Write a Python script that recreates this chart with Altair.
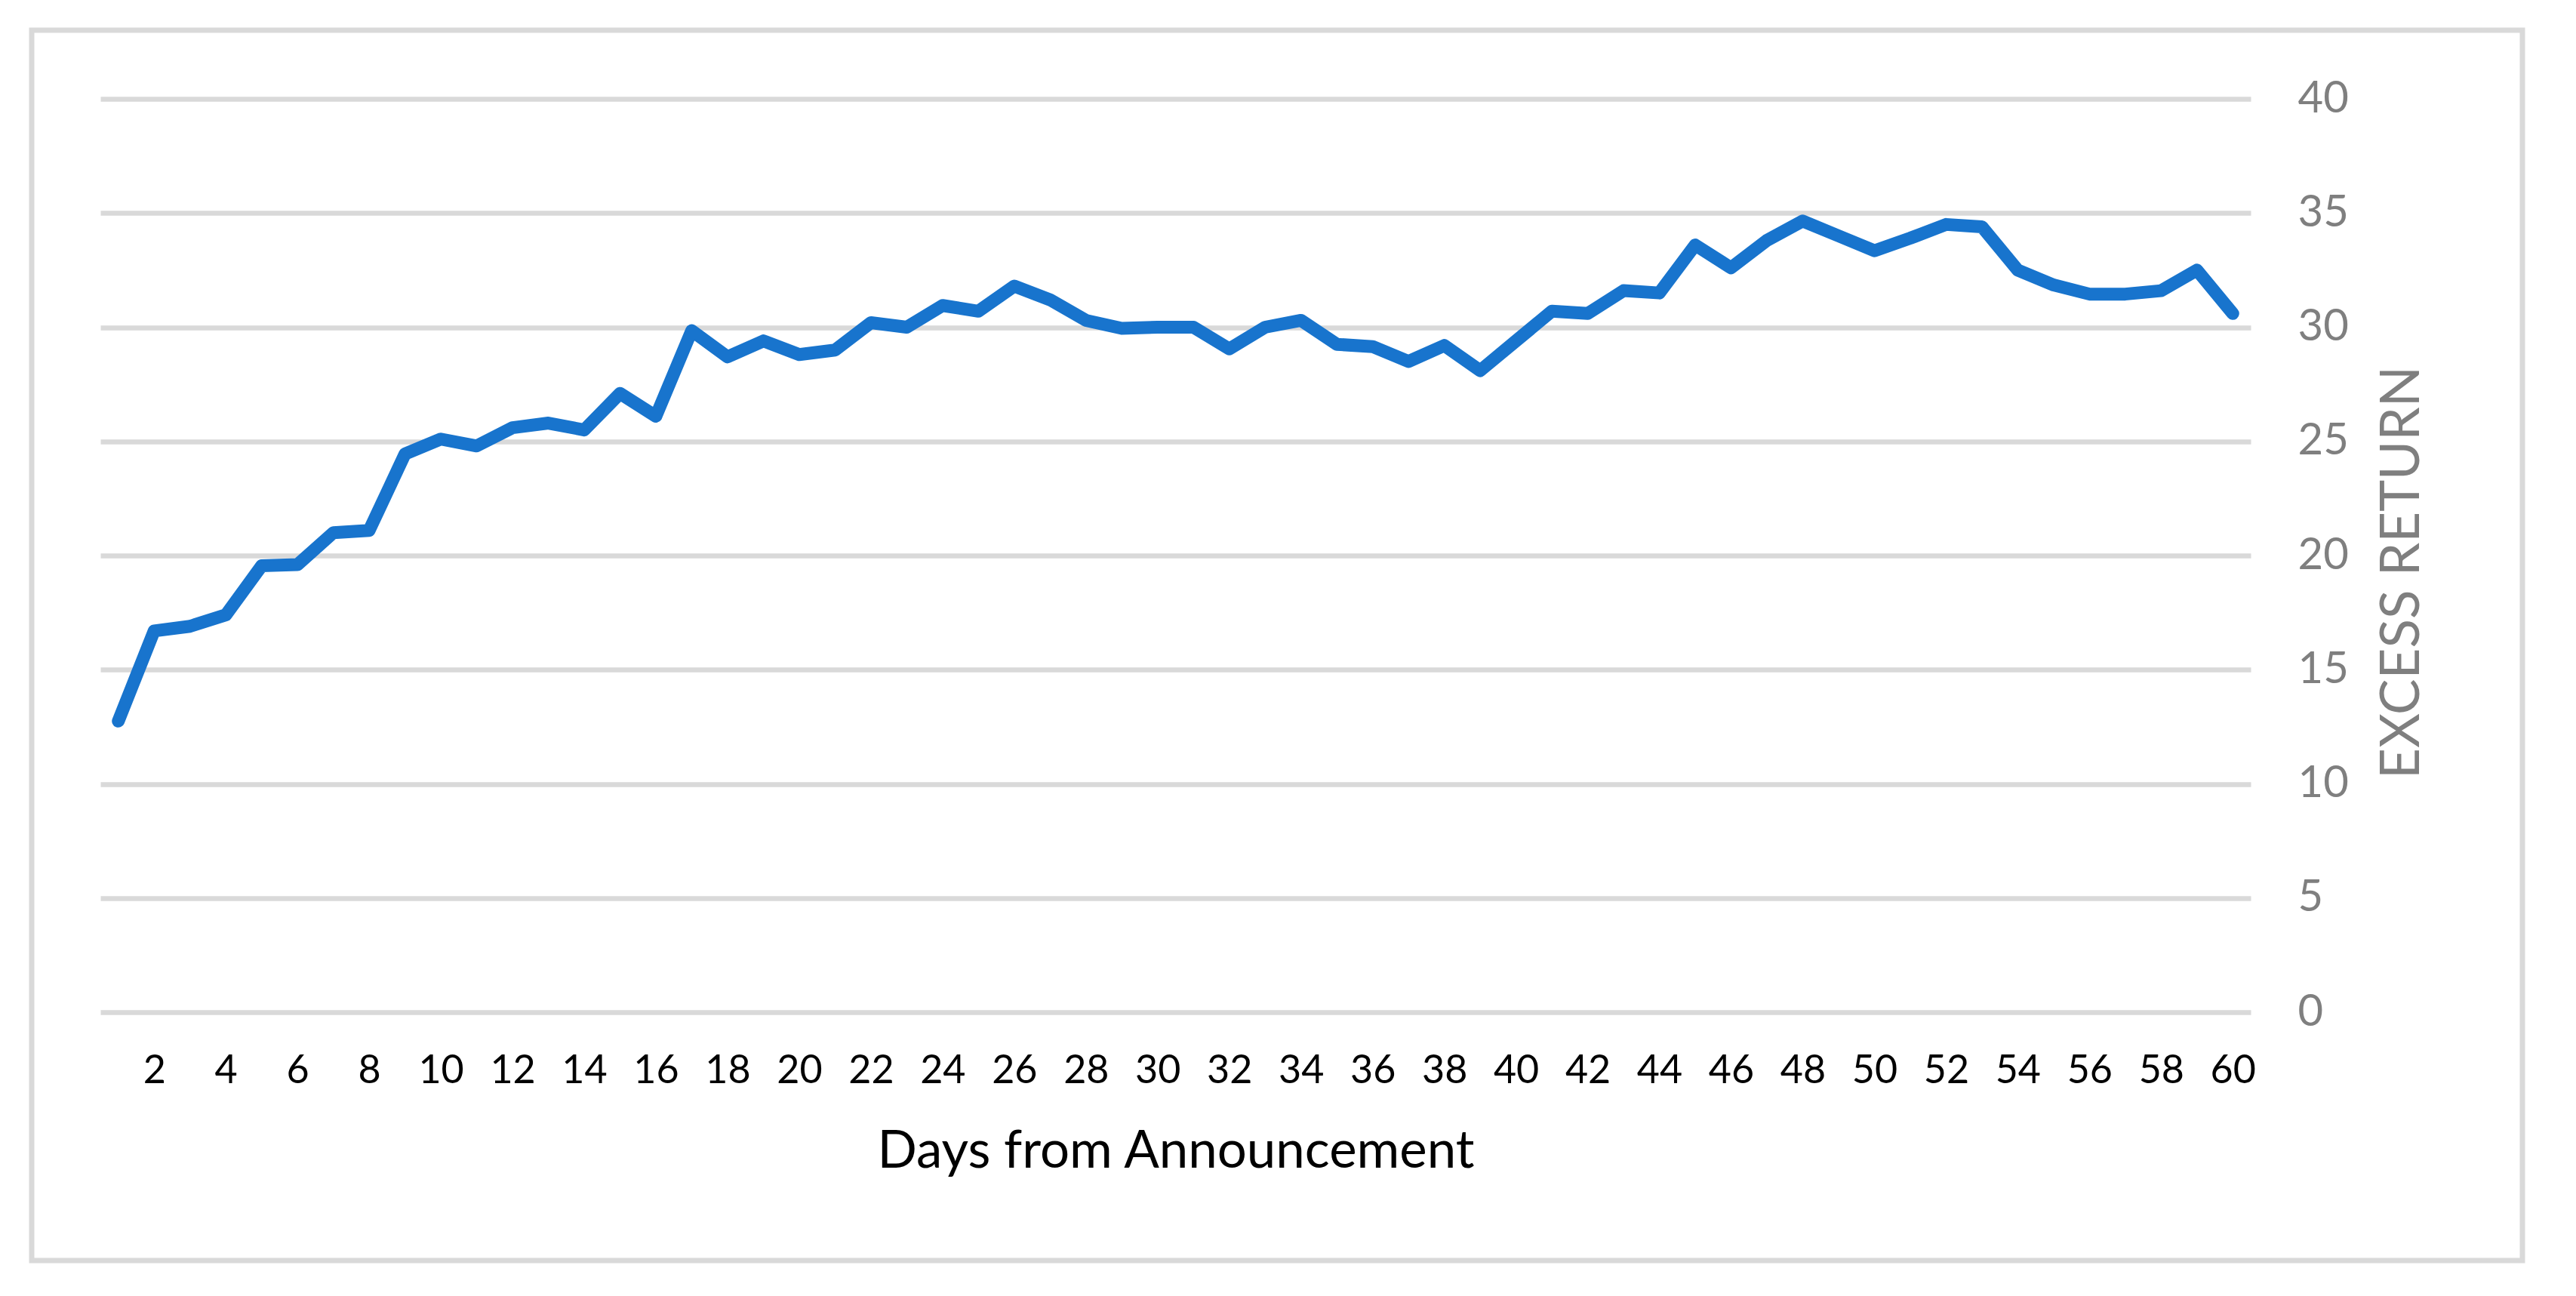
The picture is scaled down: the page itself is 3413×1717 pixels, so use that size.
import altair as alt
import pandas as pd

days = list(range(1, 61))
excess_return = [
    12.75, 16.7, 16.9, 17.4, 19.55, 19.6, 21.0, 21.1, 24.45, 25.1,
    24.8, 25.6, 25.8, 25.5, 27.1, 26.1, 29.85, 28.7, 29.4, 28.8,
    29.0, 30.2, 30.0, 30.95, 30.7, 31.8, 31.2, 30.3, 29.95, 30.0,
    30.0, 29.05, 30.0, 30.3, 29.25, 29.15, 28.5, 29.2, 28.1, 29.4,
    30.7, 30.6, 31.6, 31.5, 33.6, 32.6, 33.8, 34.65, 34.0, 33.35,
    33.9, 34.5, 34.4, 32.5, 31.85, 31.45, 31.45, 31.6, 32.5, 30.6,
]
x_tick_values = list(range(2, 61, 2))
y_tick_values = [0, 5, 10, 15, 20, 25, 30, 35, 40]

df = pd.DataFrame({"day": days, "ret": excess_return})

W, H = 2849, 1210
FONT = "Lato"

line = alt.Chart(df).mark_line(
    color="#1874cd", strokeWidth=17, strokeCap="round", strokeJoin="round"
).encode(
    x=alt.X(
        "day:Q",
        scale=alt.Scale(domain=[0.5, 60.5], nice=False, zero=False),
        axis=alt.Axis(
            values=x_tick_values,
            title="Days from Announcement",
            grid=False,
            domain=False,
            ticks=False,
            tickSize=0,
            labelFont=FONT,
            labelFontSize=52,
            labelColor="#000000",
            labelBaseline="alphabetic",
            labelPadding=93,
            labelOverlap=False,
            labelFlush=False,
            titleFont=FONT,
            titleFontSize=69,
            titleFontWeight="normal",
            titleColor="#000000",
            titleX=W / 2,
            titleY=205,
            titleAlign="center",
            titleBaseline="alphabetic",
        ),
    ),
    y=alt.Y(
        "ret:Q",
        scale=alt.Scale(domain=[0, 40], nice=False),
        axis=alt.Axis(
            orient="right",
            values=y_tick_values,
            title="EXCESS RETURN",
            grid=True,
            gridColor="#d9d9d9",
            gridWidth=6.5,
            domain=False,
            ticks=False,
            tickSize=0,
            labelFont=FONT,
            labelFontSize=58,
            labelColor="#7f7f7f",
            labelAlign="left",
            labelPadding=62,
            labelFlush=False,
            titleFont=FONT,
            titleFontSize=71,
            titleFontWeight="normal",
            titleColor="#7f7f7f",
            titleAngle=270,
            titleX=201,
            titleY=627,
            titleAlign="center",
            titleBaseline="middle",
        ),
    ),
)

frame_df = pd.DataFrame({"k": [0]})
frame = alt.Chart(frame_df).mark_rect(
    filled=False, stroke="#d9d9d9", strokeWidth=7
).encode(
    x=alt.value(-91), x2=alt.value(3209), y=alt.value(-91), y2=alt.value(1539)
)

chart = alt.layer(frame, line).properties(
    width=W, height=H,
    padding={"left": 30, "top": 28, "right": 0, "bottom": 0},
    background="#ffffff",
).configure_view(stroke=None)

chart.save("out.html", embed_options={"renderer": "svg", "actions": False})
